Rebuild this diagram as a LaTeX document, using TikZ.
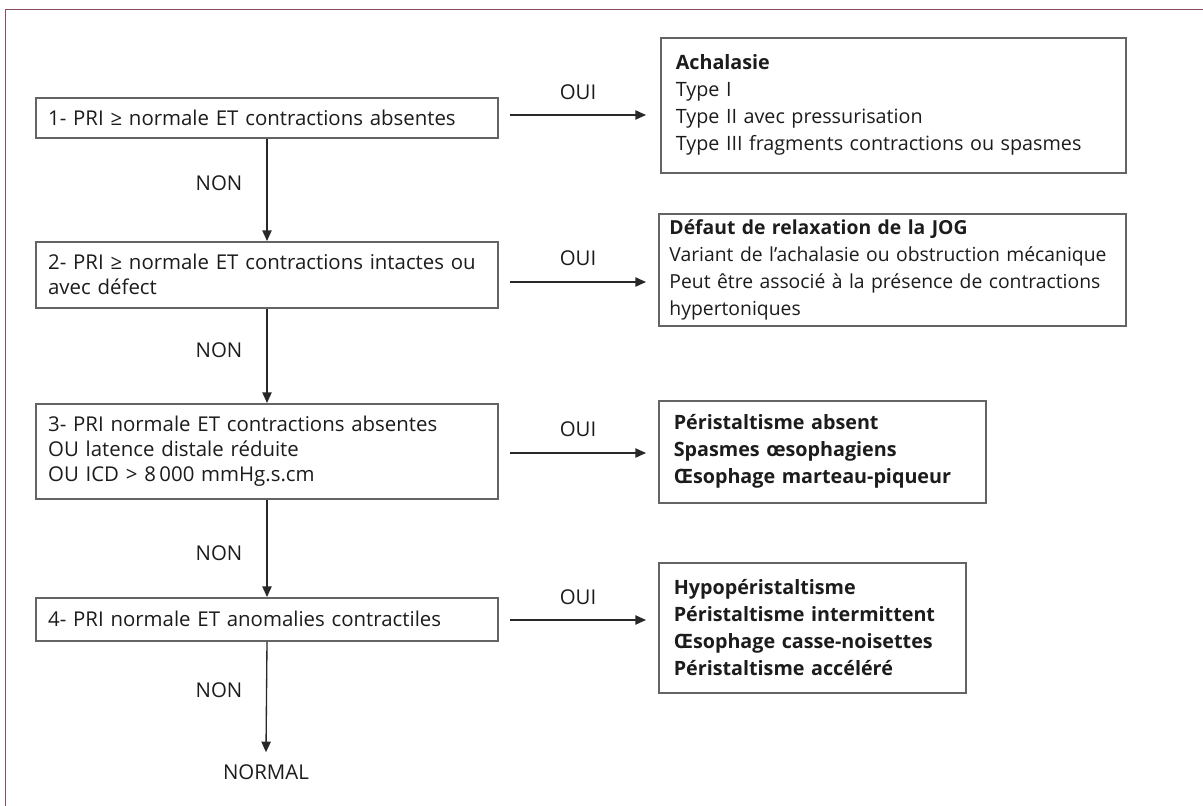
\documentclass[tikz,border=0pt]{standalone}
\usepackage{fontspec}
\setmainfont{Open Sans}
\usetikzlibrary{arrows.meta}
\definecolor{framecol}{RGB}{140,75,100}
\definecolor{boxline}{RGB}{100,100,100}
\definecolor{txt}{RGB}{28,28,28}
\definecolor{arr}{RGB}{40,40,40}
\begin{document}
\begin{tikzpicture}[x=0.75pt,y=-0.75pt,
  every node/.style={text=txt},
  lbox/.style={draw=boxline, line width=1.2pt, anchor=north west, inner xsep=9.25pt, inner ysep=0pt,
    text width=328pt, align=left, font=\fontsize{15.3}{18.75}\selectfont},
  rbox/.style={draw=boxline, line width=1.2pt, anchor=north west, inner ysep=0pt,
    align=left, font=\fontsize{14.8}{20.25}\selectfont},
  lbl/.style={font=\fontsize{15.3}{17}\selectfont, inner sep=0pt},
  conn/.style={draw=arr, line width=1pt, -{Triangle[length=8pt,width=7pt]}}
]
\useasboundingbox[fill=white] (0,0) rectangle (1203,806);
\draw[framecol, line width=1.3pt] (1203,9.5) -- (5.5,9.5) -- (5.5,806);

% left boxes
\node[lbox, minimum height=30pt] (b1) at (35,97)
  {1- PRI ≥ normale ET contractions absentes};
\node[lbox, minimum height=49.5pt] (b2) at (35,241)
  {2- PRI ≥ normale ET contractions intactes ou\\avec défect};
\node[lbox, minimum height=71.25pt] (b3) at (35,403)
  {3- PRI normale ET contractions absentes\\OU latence distale réduite\\OU ICD > 8\,000 mmHg.s.cm};
\node[lbox, minimum height=32.25pt] (b4) at (35,597)
  {4- PRI normale ET anomalies contractiles};

% right boxes
\node[rbox, inner xsep=11.25pt, text width=326.25pt, minimum height=101.25pt] (r1) at (660,37)
  {\textbf{Achalasie}\\Type I\\Type II avec pressurisation\\Type III fragments contractions ou spasmes};
\node[rbox, inner xsep=8pt, text width=334.25pt, minimum height=84pt,
      font=\fontsize{14.5}{20.25}\selectfont] (r2) at (658,213)
  {\textbf{Défaut de relaxation de la JOG}\\Variant de l'achalasie ou obstruction mécanique\\Peut être associé à la présence de contractions\\hypertoniques};
\node[rbox, inner xsep=11.25pt, text width=222.75pt, minimum height=76.5pt] (r3) at (658,400)
  {\textbf{Péristaltisme absent}\\\textbf{Spasmes œsophagiens}\\\textbf{Œsophage marteau-piqueur}};
\node[rbox, inner xsep=11.25pt, text width=207.75pt, minimum height=97.5pt] (r4) at (658,562)
  {\textbf{Hypopéristaltisme}\\\textbf{Péristaltisme intermittent}\\\textbf{Œsophage casse-noisettes}\\\textbf{Péristaltisme accéléré}};

% end node
\node[lbl] (normal) at (266,772) {NORMAL};

% coordinates for horizontal arrows
\coordinate (h1s) at (510,115); \coordinate (h1e) at (646,115);
\coordinate (h2s) at (510,282); \coordinate (h2e) at (646,282);
\coordinate (h3s) at (510,453); \coordinate (h3e) at (646,453);
\coordinate (h4s) at (510,620); \coordinate (h4e) at (646,620);

\draw[conn] (h1s) -- node[lbl, above=11pt] (oui1) {OUI} (h1e);
\draw[conn] (h2s) -- node[lbl, above=12pt] (oui2) {OUI} (h2e);
\draw[conn] (h3s) -- node[lbl, above=12pt] (oui3) {OUI} (h3e);
\draw[conn] (h4s) -- node[lbl, above=11pt] (oui4) {OUI} (h4e);

% vertical arrows
\draw[conn] (b1.south -| 267,0) -- (b2.north -| 267,0);
\draw[conn] (b2.south -| 267,0) -- (b3.north -| 267,0);
\draw[conn] (b3.south -| 267,0) -- (b4.north -| 267,0);
\draw[conn] (b4.south -| 267,0) -- ([yshift=9pt]normal.north);

\node[lbl] (non1) at (219,183) {NON};
\node[lbl] (non2) at (219,350) {NON};
\node[lbl] (non3) at (219,553) {NON};
\node[lbl] (non4) at (219,690) {NON};
\end{tikzpicture}
\end{document}
